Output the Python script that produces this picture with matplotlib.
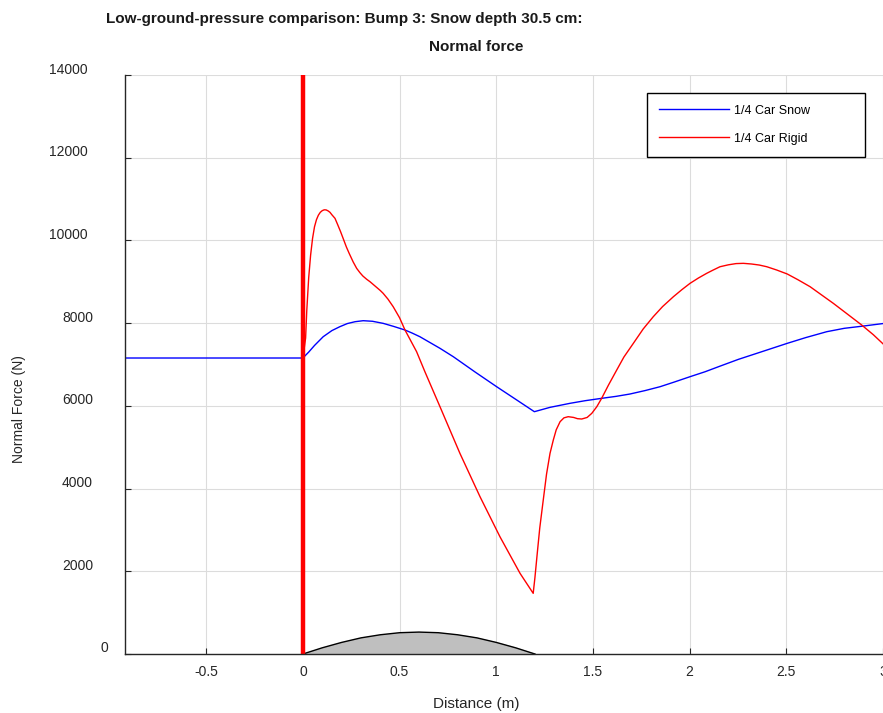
import numpy as np
import matplotlib
matplotlib.use("Agg")
import matplotlib.pyplot as plt
import matplotlib.transforms as mtrans

plt.rcParams['font.family'] = ['Liberation Sans', 'DejaVu Sans']

# 数据
snow_x = [-0.92, 0.0, 0.03, 0.06, 0.105, 0.15, 0.191, 0.23, 0.27, 0.312, 0.36, 0.415,
          0.47, 0.528, 0.565, 0.605, 0.709, 0.778, 0.89, 1.002, 1.1, 1.197, 1.278,
          1.381, 1.46, 1.545, 1.62, 1.691, 1.77, 1.847, 1.92, 2.002, 2.08, 2.157,
          2.252, 2.38, 2.505, 2.6, 2.709, 2.8, 2.899, 3.0]
snow_y = [7157, 7157, 7300, 7460, 7672, 7820, 7914, 7990, 8035, 8059, 8045, 7995,
          7920, 7834, 7760, 7672, 7391, 7188, 6820, 6463, 6160, 5859, 5964,
          6061, 6125, 6182, 6230, 6286, 6370, 6463, 6575, 6705, 6825, 6960,
          7124, 7320, 7512, 7650, 7793, 7875, 7930, 7990]

rigid_x = [0.0, 0.014, 0.02, 0.03, 0.04, 0.05, 0.06, 0.07, 0.08, 0.09, 0.1, 0.11,
           0.12, 0.13, 0.14, 0.15, 0.166, 0.18, 0.195, 0.208, 0.225, 0.24, 0.26,
           0.278, 0.295, 0.31, 0.33, 0.347, 0.365, 0.38, 0.4, 0.415, 0.44, 0.467,
           0.5, 0.528, 0.588, 0.631, 0.709, 0.812, 0.916, 1.019, 1.123, 1.191, 1.2,
           1.212, 1.225, 1.243, 1.26, 1.278, 1.295, 1.31, 1.33, 1.35, 1.372, 1.40,
           1.42, 1.442, 1.47, 1.494, 1.52, 1.545, 1.58, 1.623, 1.66, 1.709, 1.76,
           1.812, 1.86, 1.916, 1.96, 2.002, 2.045, 2.088, 2.12, 2.157, 2.2, 2.24,
           2.278, 2.32, 2.36, 2.399, 2.45, 2.505, 2.56, 2.623, 2.68, 2.743, 2.81,
           2.89, 2.95, 3.0]
rigid_y = [7157, 7640, 8300, 9100, 9650, 10050, 10330, 10500, 10610, 10680, 10720, 10740,
           10738, 10715, 10680, 10620, 10534, 10380, 10210, 10050, 9840, 9680, 9480,
           9325, 9220, 9140, 9060, 9002, 8930, 8870, 8790, 8721, 8580, 8397,
           8130, 7834, 7310, 6825, 5979, 4852, 3803, 2836, 1950, 1467, 1850,
           2435, 3050, 3723, 4350, 4852, 5174, 5420, 5617, 5710, 5738, 5720,
           5690, 5682, 5720, 5819, 5980, 6182, 6500, 6867, 7180, 7512, 7860,
           8156, 8400, 8639, 8810, 8962, 9090, 9204, 9280, 9364, 9410, 9440,
           9446, 9430, 9405, 9364, 9285, 9188, 9050, 8881, 8690, 8479, 8240,
           7954, 7720, 7500]

bump_x = [0, 0.1, 0.2, 0.3, 0.4, 0.5, 0.6, 0.7, 0.8, 0.9, 1.0, 1.1, 1.2]
bump_y = [0, 150, 280, 390, 465, 515, 530, 515, 465, 390, 280, 150, 0]

x_ticks = [-0.5, 0, 0.5, 1, 1.5, 2, 2.5, 3]
x_ticklabels = ['-0.5', '0', '0.5', '1', '1.5', '2', '2.5', '3']
y_ticks = [0, 2000, 4000, 6000, 8000, 10000, 12000, 14000]

W, H = 883, 713
fig = plt.figure(figsize=(W / 100, H / 100), dpi=100)
ax = fig.add_axes([125 / W, 59 / H, 758 / W, 579 / H])

# 地形 bump
ax.fill_between(bump_x, bump_y, 0, color='#bfbfbf', zorder=2)
ax.plot(bump_x, bump_y, color='black', lw=1.0, zorder=3)

ax.plot(snow_x, snow_y, color='#0000ff', lw=1.0, label='1/4 Car Snow', zorder=4)
ax.plot(rigid_x, rigid_y, color='#ff0000', lw=1.0, label='1/4 Car Rigid', zorder=4)
ax.axvline(0, color='#ff0000', lw=3.2, zorder=5)

ax.set_xlim(-0.92, 3.0)
ax.set_ylim(0, 14000)
ax.set_xticks(x_ticks)
ax.set_xticklabels(x_ticklabels)
ax.set_yticks(y_ticks)
ax.grid(True, color='#dcdcdc', lw=0.8, zorder=0)
ax.set_axisbelow(True)

for s in ['top', 'right']:
    ax.spines[s].set_visible(False)
for s in ['left', 'bottom']:
    ax.spines[s].set_color('#262626')
    ax.spines[s].set_linewidth(1.0)
    ax.spines[s].set_zorder(6)

ax.tick_params(axis='both', direction='in', length=4, width=0.8, colors='#262626',
               labelsize=10, labelcolor='#262626')
ax.tick_params(axis='x', pad=8)
ax.tick_params(axis='y', pad=12.2)

# y轴刻度标签的奇怪偏移
for lbl, v in zip(ax.get_yticklabels(), y_ticks):
    n = len(str(v))
    off = mtrans.ScaledTranslation(-(n - 1) * 5 / 100, 7 / 100, fig.dpi_scale_trans)
    lbl.set_transform(lbl.get_transform() + off)

leg = ax.legend(loc='upper left', bbox_to_anchor=(0.689, 0.8579, 0.2867, 0.1115),
                mode='expand', borderaxespad=0, fontsize=9, handlelength=5.6,
                handletextpad=0.4, labelspacing=1.3, borderpad=0.95,
                fancybox=False, framealpha=1, edgecolor='black')
leg.get_frame().set_linewidth(1.0)

fig.text(344 / W, 1 - 19 / H, 'Low-ground-pressure comparison: Bump 3: Snow depth 30.5 cm:',
         ha='center', va='center', fontsize=11, fontweight='bold', color='#1a1a1a')
fig.text(476 / W, 1 - 47 / H, 'Normal force', ha='center', va='center',
         fontsize=11, fontweight='bold', color='#1a1a1a')
fig.text(476 / W, 1 - 704 / H, 'Distance (m)', ha='center', va='center',
         fontsize=11, color='#262626')
fig.text(19 / W, 1 - 409 / H, 'Normal Force (N)', ha='center', va='center',
         rotation=90, fontsize=10, color='#262626')

fig.savefig('out.png', dpi=100)
